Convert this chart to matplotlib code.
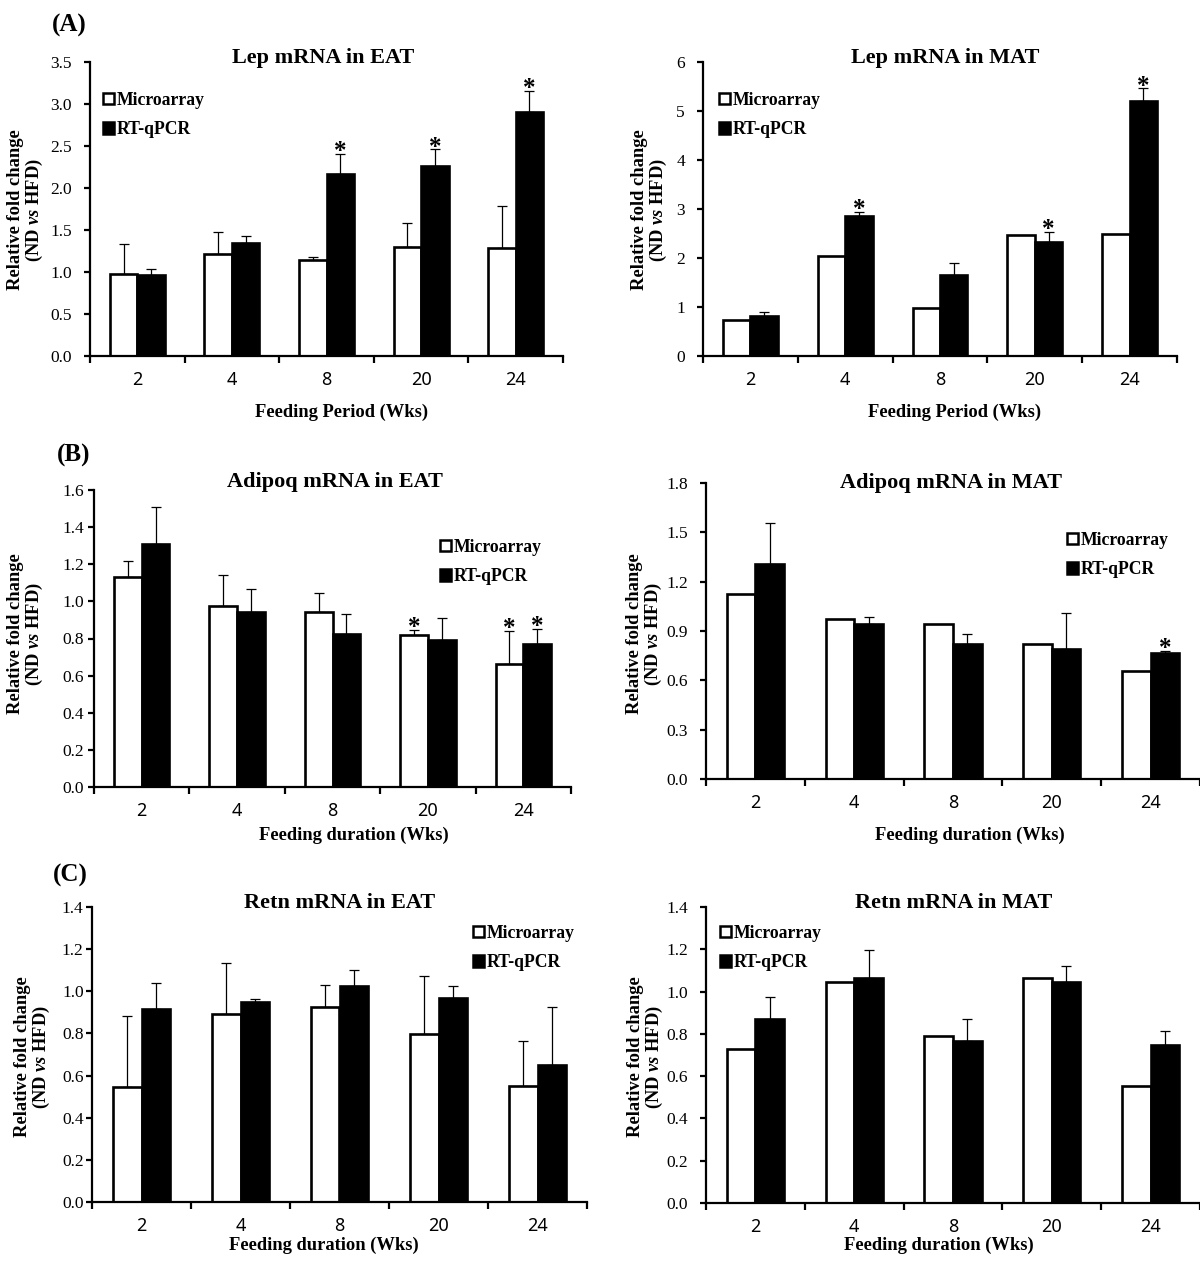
import matplotlib
matplotlib.use('Agg')
import matplotlib.pyplot as plt
import numpy as np
from matplotlib.patches import Patch
from matplotlib.ticker import FixedLocator, NullFormatter, FixedFormatter

plt.rcParams['font.family'] = ['Liberation Serif', 'DejaVu Serif']
plt.rcParams['mathtext.fontset'] = 'custom'
plt.rcParams['mathtext.it'] = 'Liberation Serif:italic:bold'
plt.rcParams['mathtext.rm'] = 'Liberation Serif:bold'

# ---------------- data ----------------
weeks = ['2', '4', '8', '20', '24']
series_names = ['Microarray', 'RT-qPCR']

lep_eat_micro = [0.98, 1.21, 1.14, 1.30, 1.29]
lep_eat_micro_top = [1.33, 1.48, 1.18, 1.58, 1.79]
lep_eat_rt = [0.96, 1.34, 2.17, 2.26, 2.90]
lep_eat_rt_top = [1.03, 1.43, 2.41, 2.46, 3.16]
lep_eat_star_micro = [0, 0, 0, 0, 0]
lep_eat_star_rt = [0, 0, 1, 1, 1]

lep_mat_micro = [0.73, 2.05, 0.97, 2.47, 2.50]
lep_mat_micro_top = [0.73, 2.05, 0.97, 2.47, 2.50]
lep_mat_rt = [0.82, 2.85, 1.65, 2.33, 5.20]
lep_mat_rt_top = [0.90, 2.94, 1.90, 2.54, 5.46]
lep_mat_star_micro = [0, 0, 0, 0, 0]
lep_mat_star_rt = [0, 1, 0, 1, 1]

adi_eat_micro = [1.13, 0.975, 0.945, 0.82, 0.66]
adi_eat_micro_top = [1.22, 1.14, 1.047, 0.845, 0.84]
adi_eat_rt = [1.31, 0.944, 0.824, 0.79, 0.768]
adi_eat_rt_top = [1.507, 1.067, 0.933, 0.91, 0.85]
adi_eat_star_micro = [0, 0, 0, 1, 1]
adi_eat_star_rt = [0, 0, 0, 0, 1]

adi_mat_micro = [1.127, 0.973, 0.945, 0.819, 0.659]
adi_mat_micro_top = [1.127, 0.973, 0.945, 0.819, 0.659]
adi_mat_rt = [1.31, 0.94, 0.823, 0.79, 0.767]
adi_mat_rt_top = [1.557, 0.987, 0.88, 1.007, 0.779]
adi_mat_star_micro = [0, 0, 0, 0, 0]
adi_mat_star_rt = [0, 0, 0, 0, 1]

retn_eat_micro = [0.546, 0.891, 0.926, 0.796, 0.552]
retn_eat_micro_top = [0.884, 1.134, 1.028, 1.073, 0.766]
retn_eat_rt = [0.915, 0.948, 1.024, 0.968, 0.649]
retn_eat_rt_top = [1.04, 0.962, 1.10, 1.025, 0.926]
retn_eat_star_micro = [0, 0, 0, 0, 0]
retn_eat_star_rt = [0, 0, 0, 0, 0]

retn_mat_micro = [0.73, 1.046, 0.79, 1.066, 0.552]
retn_mat_micro_top = [0.73, 1.046, 0.79, 1.066, 0.552]
retn_mat_rt = [0.869, 1.062, 0.765, 1.046, 0.748]
retn_mat_rt_top = [0.972, 1.196, 0.872, 1.121, 0.815]
retn_mat_star_micro = [0, 0, 0, 0, 0]
retn_mat_star_rt = [0, 0, 0, 0, 0]

titles = ['Lep mRNA in EAT', 'Lep mRNA in MAT',
          'Adipoq mRNA in EAT', 'Adipoq mRNA in MAT',
          'Retn mRNA in EAT', 'Retn mRNA in MAT']
xlabels = ['Feeding Period (Wks)', 'Feeding Period (Wks)',
           'Feeding duration (Wks)', 'Feeding duration (Wks)',
           'Feeding duration (Wks)', 'Feeding duration (Wks)']
ylims = [3.5, 6, 1.6, 1.8, 1.4, 1.4]
ysteps = [0.5, 1, 0.2, 0.3, 0.2, 0.2]
yfmts = ['%.1f', '%d', '%.1f', '%.1f', '%.1f', '%.1f']
panel_letters = ['(A)', '(B)', '(C)']

panels = [
    (lep_eat_micro, lep_eat_micro_top, lep_eat_rt, lep_eat_rt_top, lep_eat_star_micro, lep_eat_star_rt),
    (lep_mat_micro, lep_mat_micro_top, lep_mat_rt, lep_mat_rt_top, lep_mat_star_micro, lep_mat_star_rt),
    (adi_eat_micro, adi_eat_micro_top, adi_eat_rt, adi_eat_rt_top, adi_eat_star_micro, adi_eat_star_rt),
    (adi_mat_micro, adi_mat_micro_top, adi_mat_rt, adi_mat_rt_top, adi_mat_star_micro, adi_mat_star_rt),
    (retn_eat_micro, retn_eat_micro_top, retn_eat_rt, retn_eat_rt_top, retn_eat_star_micro, retn_eat_star_rt),
    (retn_mat_micro, retn_mat_micro_top, retn_mat_rt, retn_mat_rt_top, retn_mat_star_micro, retn_mat_star_rt),
]

# ---------------- layout (pixels) ----------------
W, H = 1200, 1263
def fx(x): return x / W
def fy(y): return 1 - y / H

axes_px = [(90, 62, 563, 356), (703, 62, 1177, 356),
           (94, 490, 571, 787), (706, 483, 1200, 779),
           (92, 907, 587, 1202), (706, 907, 1200, 1203)]
title_px = [(323, 58), (945, 58), (335, 482), (951, 483), (340, 903), (954, 903)]
xlabel_px = [(342, 412), (955, 412), (354, 835), (970, 835), (324, 1245), (939, 1245)]
ylabel_px = [(26, 210), (650, 210), (26, 634), (645, 634), (33, 1057), (646, 1057)]
legend_px = [(103, 115), (719, 115), (440, 562), (1067, 555), (473, 948), (720, 948)]
letter_px = [(69, 25), (74, 455), (70, 875)]
ytick_pad = [9, 9, 3, 9, 2, 9]

fig = plt.figure(figsize=(12, 12.63), dpi=100)

serif = 'Liberation Serif'
sans = 'Noto Sans'
bw = 0.29

for i, (ax_px, data) in enumerate(zip(axes_px, panels)):
    x0, y0, x1, y1 = ax_px
    ax = fig.add_axes([fx(x0), fy(y1), (x1 - x0) / W, (y1 - y0) / H])
    micro, micro_top, rt, rt_top, st_m, st_r = data
    idx = np.arange(len(weeks))
    xm = idx - bw / 2
    xr = idx + bw / 2
    ax.bar(xm, micro, width=bw, color='white', edgecolor='black', linewidth=1.9, zorder=3)
    ax.bar(xr, rt, width=bw, color='black', edgecolor='black', linewidth=1.9, zorder=3)
    em = np.array(micro_top) - np.array(micro)
    er = np.array(rt_top) - np.array(rt)
    mm = em > 0.001
    mr = er > 0.001
    ax.errorbar(xm[mm], np.array(micro)[mm], yerr=[np.zeros(mm.sum()), em[mm]],
                fmt='none', ecolor='black', elinewidth=0.9, capsize=3.4, capthick=0.9, zorder=2)
    ax.errorbar(xr[mr], np.array(rt)[mr], yerr=[np.zeros(mr.sum()), er[mr]],
                fmt='none', ecolor='black', elinewidth=0.9, capsize=3.4, capthick=0.9, zorder=2)
    for j in range(len(weeks)):
        if st_m[j]:
            ax.annotate('*', (xm[j], micro_top[j]), xytext=(0, -3), textcoords='offset points',
                        ha='center', va='baseline', fontsize=18, fontweight='bold', family=serif)
        if st_r[j]:
            ax.annotate('*', (xr[j], rt_top[j]), xytext=(0, -3), textcoords='offset points',
                        ha='center', va='baseline', fontsize=18, fontweight='bold', family=serif)

    ax.set_xlim(-0.5, len(weeks) - 0.5)
    ax.set_ylim(0, ylims[i])
    for s in ['top', 'right']:
        ax.spines[s].set_visible(False)
    for s in ['left', 'bottom']:
        ax.spines[s].set_linewidth(1.6)
    ax.spines['left'].set_zorder(5)
    ax.spines['bottom'].set_zorder(5)

    ax.xaxis.set_major_locator(FixedLocator(np.arange(-0.5, len(weeks), 1.0)))
    ax.xaxis.set_major_formatter(NullFormatter())
    ax.xaxis.set_minor_locator(FixedLocator(idx))
    ax.xaxis.set_minor_formatter(FixedFormatter(weeks))
    ax.tick_params(axis='x', which='major', direction='out', length=5, width=1.6)
    ax.tick_params(axis='x', which='minor', length=0, pad=11, labelsize=13)
    for lab in ax.xaxis.get_minorticklabels():
        lab.set_family(sans)

    yt = np.arange(0, ylims[i] + 1e-9, ysteps[i])
    ax.set_yticks(yt)
    ax.set_yticklabels([yfmts[i] % v for v in yt])
    ax.tick_params(axis='y', direction='out', length=4, width=1.6, labelsize=12.5, pad=ytick_pad[i])

    tx, ty = title_px[i]
    fig.text(fx(tx), fy(ty), titles[i], ha='center', va='center', fontsize=16,
             fontweight='bold', family=serif)
    lx, ly = xlabel_px[i]
    fig.text(fx(lx), fy(ly), xlabels[i], ha='center', va='center', fontsize=13.3,
             fontweight='bold', family=serif)
    yx, yy = ylabel_px[i]
    fig.text(fx(yx), fy(yy), 'Relative fold change\n(ND $\\mathit{vs}$ HFD)', ha='center',
             va='center', rotation=90, fontsize=13.3, fontweight='bold', family=serif,
             linespacing=1.05, multialignment='center')

    handles = [Patch(facecolor='white', edgecolor='black', linewidth=1.8),
               Patch(facecolor='black', edgecolor='black', linewidth=1.8)]
    gx, gy = legend_px[i]
    ax.legend(handles, series_names, loc='center left', bbox_to_anchor=(fx(gx), fy(gy)),
              bbox_transform=fig.transFigure, frameon=False, borderpad=0, borderaxespad=0,
              handlelength=0.6, handleheight=0.65, handletextpad=0.2, labelspacing=0.72,
              prop={'family': serif, 'weight': 'bold', 'size': 12.7})

for (lx, ly), t in zip(letter_px, panel_letters):
    fig.text(fx(lx), fy(ly), t, ha='center', va='center', fontsize=18, fontweight='bold',
             family=serif)

fig.savefig('out.png', dpi=100)
